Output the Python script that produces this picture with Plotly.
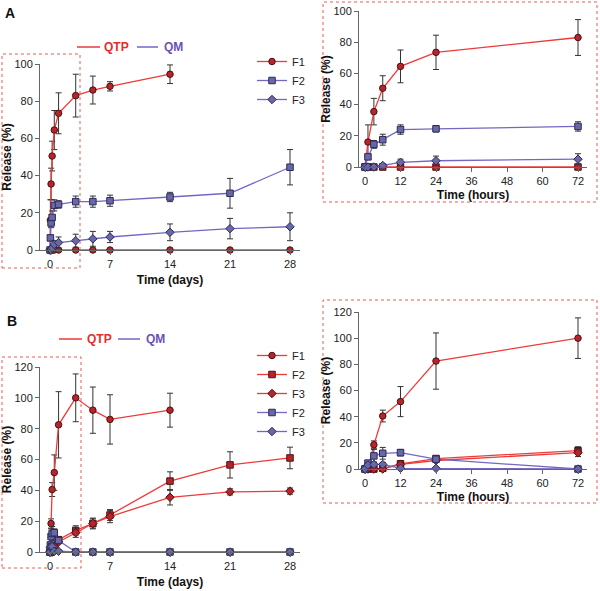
import plotly.graph_objects as go

# ---------------- data ----------------
hours = [0, 1, 3, 6, 12, 24, 72]
late_days = [5, 7, 14, 21, 28]
late_days_f1 = [5, 7, 14]

# Panel A
A_F1_QTP_h = [0, 16, 35.5, 50.5, 64.5, 73.5, 83]
A_F1_QTP_h_err = [None, 11, 8.5, 8, 10.5, 11, 11.5]
A_F1_QTP_d = [86, 88, 94.5]
A_F1_QTP_d_err = [7.5, 2.5, 5]

A_F2_QM_h = [0, 6.5, 14.5, 17.5, 24, 24.5, 26]
A_F2_QM_h_err = [None, 1.5, 2.5, 3.5, 3, 2, 3]
A_F2_QM_d = [26, 26.5, 28.5, 30.5, 44.5]
A_F2_QM_d_err = [3, 3, 2.5, 8, 9.5]

A_F3_QM_h = [0, 0, 0, 1, 3, 4, 5]
A_F3_QM_h_err = [None, None, None, 1, 2, 3, 3.5]
A_F3_QM_d = [6, 7, 9.5, 11.5, 12.5]
A_F3_QM_d_err = [4, 3, 4.5, 5.5, 7.5]

A_QTP_zero_h = [0, 0, 0, 0, 0, 0, 0]
A_QTP_zero_d = [0, 0, 0, 0, 0]

# Panel B
B_F1_QTP_h = [0, 0, 18.5, 40.5, 51.5, 82.5, 100]
B_F1_QTP_h_err = [None, None, 3, 4.5, 11.5, 21.5, 15.5]
B_F1_QTP_d = [92, 86, 92]
B_F1_QTP_d_err = [15, 16, 11]

B_F2_QTP_h = [0, 0, 0, 0.5, 4, 8, 14]
B_F2_QTP_h_err = [None, None, None, 0.5, 1, 1.5, 3]
B_F2_QTP_d = [18.5, 24, 46, 56.5, 61]
B_F2_QTP_d_err = [3.5, 3.5, 6, 8.5, 7]

B_F3_QTP_h = [0, 0, 0, 0, 3.5, 6.5, 12.5]
B_F3_QTP_h_err = [None, None, None, None, 1, 1, 3]
B_F3_QTP_d = [18.5, 23, 35.5, 39, 39.5]
B_F3_QTP_d_err = [3, 4, 5, 2, 2]

B_F2_QM_h = [0, 4.5, 10, 12, 12.5, 7.5, 0]
B_F2_QM_h_err = [None, 2, 5, 4.5, 2.5, 1.5, None]
B_F2_QM_d = [0, 0, 0, 0, 0]
B_F2_QM_d_err = [None] * 5

B_F3_QM_h = [0, 3, 3.5, 3.5, 0.5, 0.5, 0]
B_F3_QM_h_err = [None, 1.5, 2, 1.5, 1, 1, None]
B_F3_QM_d = [0, 0, 0, 0, 0]
B_F3_QM_d_err = [None] * 5

x_ticks_days = [0, 7, 14, 21, 28]
x_ticks_hours = [0, 12, 24, 36, 48, 60, 72]

# ---------------- styles ----------------
W, H = 600, 591
RED_LINE = "#ee3a3a"
RED_FILL = "#b8242c"
RED_EDGE = "#4a1010"
PUR_LINE = "#7566c2"
PUR_FILL = "#6868a8"
PUR_EDGE = "#2a2a5a"
ERR = "#333333"
AXIS = "#666666"
FONT = "Liberation Sans, Arial, sans-serif"


def px(x):
    return x / W


def py(y):
    return 1 - y / H


def to_days(h):
    return [v / 24 for v in h]


fig = go.Figure()


def add(xs, ys, errs, color, fill, edge, symbol, xa, ya, name=None, legend=None):
    fig.add_trace(go.Scatter(
        x=xs, y=ys, mode="lines+markers",
        line=dict(color=color, width=1.3),
        marker=dict(symbol=symbol, size=6.5, color=fill, line=dict(color=edge, width=1)),
        error_y=dict(type="data", array=errs, color=ERR, thickness=1, width=3, visible=True),
        xaxis=xa, yaxis=ya, cliponaxis=False,
        name=name if name else "", showlegend=bool(name),
        legend=legend if legend else "legend",
    ))


days_all = to_days(hours)

# Panel A main (days)
add(days_all + late_days, A_QTP_zero_h + A_QTP_zero_d, None, RED_LINE, RED_FILL, RED_EDGE, "circle", "x", "y")
add(days_all + late_days_f1, A_F1_QTP_h + A_F1_QTP_d, A_F1_QTP_h_err + A_F1_QTP_d_err,
    RED_LINE, RED_FILL, RED_EDGE, "circle", "x", "y", "F1", "legend")
add(days_all + late_days, A_F2_QM_h + A_F2_QM_d, A_F2_QM_h_err + A_F2_QM_d_err,
    PUR_LINE, PUR_FILL, PUR_EDGE, "square", "x", "y", "F2", "legend")
add(days_all + late_days, A_F3_QM_h + A_F3_QM_d, A_F3_QM_h_err + A_F3_QM_d_err,
    PUR_LINE, PUR_FILL, PUR_EDGE, "diamond", "x", "y", "F3", "legend")

# Panel A inset (hours)
add(hours, A_QTP_zero_h, None, RED_LINE, RED_FILL, RED_EDGE, "square", "x2", "y2")
add(hours, A_F1_QTP_h, A_F1_QTP_h_err, RED_LINE, RED_FILL, RED_EDGE, "circle", "x2", "y2")
add(hours, A_F2_QM_h, A_F2_QM_h_err, PUR_LINE, PUR_FILL, PUR_EDGE, "square", "x2", "y2")
add(hours, A_F3_QM_h, A_F3_QM_h_err, PUR_LINE, PUR_FILL, PUR_EDGE, "diamond", "x2", "y2")

# Panel B main (days)
add(days_all + late_days_f1, B_F1_QTP_h + B_F1_QTP_d, B_F1_QTP_h_err + B_F1_QTP_d_err,
    RED_LINE, RED_FILL, RED_EDGE, "circle", "x3", "y3", "F1", "legend2")
add(days_all + late_days, B_F2_QTP_h + B_F2_QTP_d, B_F2_QTP_h_err + B_F2_QTP_d_err,
    RED_LINE, RED_FILL, RED_EDGE, "square", "x3", "y3", "F2", "legend2")
add(days_all + late_days, B_F3_QTP_h + B_F3_QTP_d, B_F3_QTP_h_err + B_F3_QTP_d_err,
    RED_LINE, RED_FILL, RED_EDGE, "diamond", "x3", "y3", "F3", "legend2")
add(days_all + late_days, B_F2_QM_h + B_F2_QM_d, B_F2_QM_h_err + B_F2_QM_d_err,
    PUR_LINE, PUR_FILL, PUR_EDGE, "square", "x3", "y3", "F2 ", "legend2")
add(days_all + late_days, B_F3_QM_h + B_F3_QM_d, B_F3_QM_h_err + B_F3_QM_d_err,
    PUR_LINE, PUR_FILL, PUR_EDGE, "diamond", "x3", "y3", "F3 ", "legend2")

# Panel B inset (hours)
add(hours, B_F1_QTP_h, B_F1_QTP_h_err, RED_LINE, RED_FILL, RED_EDGE, "circle", "x4", "y4")
add(hours, B_F2_QTP_h, B_F2_QTP_h_err, RED_LINE, RED_FILL, RED_EDGE, "square", "x4", "y4")
add(hours, B_F3_QTP_h, B_F3_QTP_h_err, RED_LINE, RED_FILL, RED_EDGE, "diamond", "x4", "y4")
add(hours, B_F2_QM_h, B_F2_QM_h_err, PUR_LINE, PUR_FILL, PUR_EDGE, "square", "x4", "y4")
add(hours, B_F3_QM_h, B_F3_QM_h_err, PUR_LINE, PUR_FILL, PUR_EDGE, "diamond", "x4", "y4")

tickfont = dict(family=FONT, size=11, color="#222")
titlefont = dict(family=FONT, size=12, color="#111", weight="bold")


def xaxis(dom, rng, ticks, title, standoff):
    return dict(domain=dom, range=rng, tickvals=ticks, showgrid=False, zeroline=False,
                showline=True, linecolor=AXIS, linewidth=1, ticks="outside", ticklen=4,
                tickcolor=AXIS, tickfont=tickfont, fixedrange=True, automargin=False,
                title=dict(text=title, font=titlefont, standoff=standoff))


def yaxis(dom, rng, dtick, title, standoff):
    return dict(domain=dom, range=rng, dtick=dtick, showgrid=False, zeroline=False,
                showline=True, linecolor=AXIS, linewidth=1, ticks="outside", ticklen=4,
                tickcolor=AXIS, tickfont=tickfont, fixedrange=True, automargin=False,
                title=dict(text=title, font=titlefont, standoff=standoff))


# main axes pixel geometry: x=0 at px 50, x=28 at px 290
main_x_dom = [px(40), px(300)]
main_x_rng = [-10 / (240 / 28), 28 + 10 / (240 / 28)]
ins_x_dom = [px(359), px(587)]
ins_x_rng = [-6 / (213 / 72), 72 + 9 / (213 / 72)]

fig.update_layout(
    width=W, height=H, autosize=False,
    margin=dict(l=0, r=0, t=0, b=0, autoexpand=False),
    paper_bgcolor="white", plot_bgcolor="rgba(0,0,0,0)",
    font=dict(family=FONT, color="#222"),
    xaxis=xaxis(main_x_dom, main_x_rng, x_ticks_days, "Time (days)", 6),
    yaxis=yaxis([py(250), py(64)], [0, 100], 20, "Release (%)", 6),
    xaxis2=dict(xaxis(ins_x_dom, ins_x_rng, x_ticks_hours, "Time (hours)", 4), anchor="y2"),
    yaxis2=dict(yaxis([py(167), py(11)], [0, 100], 20, "Release (%)", 0), anchor="x2"),
    xaxis3=dict(xaxis(main_x_dom, main_x_rng, x_ticks_days, "Time (days)", 6), anchor="y3"),
    yaxis3=dict(yaxis([py(552), py(367)], [0, 120], 20, "Release (%)", 6), anchor="x3"),
    xaxis4=dict(xaxis(ins_x_dom, ins_x_rng, x_ticks_hours, "Time (hours)", 4), anchor="y4"),
    yaxis4=dict(yaxis([py(469), py(312)], [0, 120], 20, "Release (%)", 0), anchor="x4"),
    legend=dict(x=px(252), y=py(47), xanchor="left", yanchor="top",
                bgcolor="rgba(0,0,0,0)", font=dict(family=FONT, size=11, color="#222"),
                itemwidth=30, tracegroupgap=0),
    legend2=dict(x=px(252), y=py(341), xanchor="left", yanchor="top",
                 bgcolor="rgba(0,0,0,0)", font=dict(family=FONT, size=11, color="#222"),
                 itemwidth=30, tracegroupgap=0),
)

DASH = dict(color="#e85a5a", width=1, dash="dot")
shapes = [
    dict(type="rect", xref="paper", yref="paper", x0=px(2), x1=px(80), y0=py(268), y1=py(54), line=DASH),
    dict(type="rect", xref="paper", yref="paper", x0=px(323), x1=px(597), y0=py(202), y1=py(2), line=DASH),
    dict(type="rect", xref="paper", yref="paper", x0=px(2), x1=px(81), y0=py(568), y1=py(357), line=DASH),
    dict(type="rect", xref="paper", yref="paper", x0=px(323), x1=px(597), y0=py(503), y1=py(300), line=DASH),
    dict(type="line", xref="paper", yref="paper", x0=px(77), x1=px(100), y0=py(47), y1=py(47),
         line=dict(color=RED_LINE, width=1.5)),
    dict(type="line", xref="paper", yref="paper", x0=px(137), x1=px(158), y0=py(47), y1=py(47),
         line=dict(color=PUR_LINE, width=1.5)),
    dict(type="line", xref="paper", yref="paper", x0=px(59), x1=px(82), y0=py(339), y1=py(339),
         line=dict(color=RED_LINE, width=1.5)),
    dict(type="line", xref="paper", yref="paper", x0=px(118), x1=px(140), y0=py(339), y1=py(339),
         line=dict(color=PUR_LINE, width=1.5)),
]
fig.update_layout(shapes=shapes)

annots = [
    dict(text="<b>A</b>", x=px(3), y=py(3), xanchor="left", yanchor="top", font=dict(family=FONT, size=14, color="#111")),
    dict(text="<b>B</b>", x=px(5), y=py(311), xanchor="left", yanchor="top", font=dict(family=FONT, size=14, color="#111")),
    dict(text="<b>QTP</b>", x=px(102), y=py(47), xanchor="left", yanchor="middle", font=dict(family=FONT, size=12, color="#e82a2a")),
    dict(text="<b>QM</b>", x=px(162), y=py(47), xanchor="left", yanchor="middle", font=dict(family=FONT, size=12, color="#6a50b8")),
    dict(text="<b>QTP</b>", x=px(85), y=py(339), xanchor="left", yanchor="middle", font=dict(family=FONT, size=12, color="#e82a2a")),
    dict(text="<b>QM</b>", x=px(144), y=py(339), xanchor="left", yanchor="middle", font=dict(family=FONT, size=12, color="#6a50b8")),
]
for a in annots:
    a.update(xref="paper", yref="paper", showarrow=False)
fig.update_layout(annotations=annots)

fig.write_html("out.html", config={"displayModeBar": False},
               post_script="document.body.style.margin='0';document.body.style.overflow='hidden';")
